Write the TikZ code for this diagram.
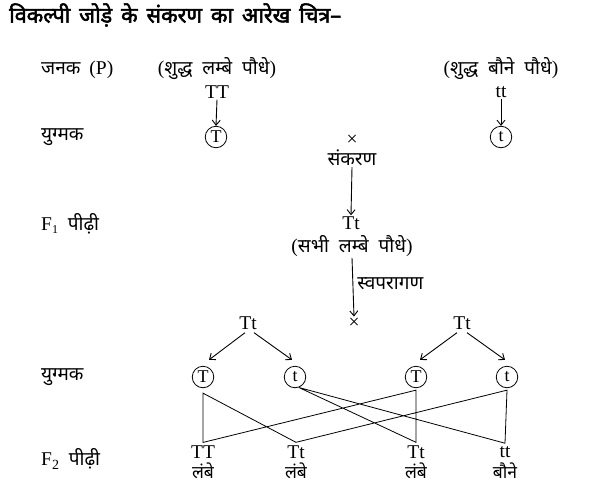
\documentclass[tikz,border=0pt]{standalone}
\usepackage{fontspec}
\setmainfont{Liberation Serif}
\newfontfamily\devfont[Script=Devanagari, WordSpace=2]{Noto Sans}
\newfontfamily\devbold[Script=Devanagari, FakeBold=2.5, WordSpace=1.6]{Noto Sans}
\usetikzlibrary{arrows.meta}
\newcommand{\hin}[1]{{\devfont\fontsize{19}{19}\selectfont #1}}
\newcommand{\hinsm}[1]{{\devfont\fontsize{17.5}{17.5}\selectfont #1}}
\begin{document}
\begin{tikzpicture}[x=1pt,y=-1pt,
  lat/.style={font=\fontsize{19.5}{19.5}\selectfont, inner sep=1pt},
  gam/.style={circle, draw, line width=0.8pt, minimum size=21.5pt, inner sep=0pt, font=\fontsize{18}{18}\selectfont},
  arr/.style={-{Straight Barb[length=5pt,width=8pt]}, line width=0.9pt},
  lnk/.style={line width=0.8pt, line join=miter}]
\useasboundingbox[fill=white] (0,0) rectangle (600,483);
% title
\node[anchor=west, inner sep=0pt, font=\devbold\fontsize{21.5}{21.5}\selectfont] (title) at (9,15) {विकल्पी जोड़े के संकरण का आरेख चित्र–};
% row labels
\node[lat, anchor=west] (lP) at (40,70) {\hin{जनक}\hspace{9pt}(P)};
\node[lat, anchor=west] (lG1) at (40,137) {\hin{युग्मक}};
\node[lat, anchor=west] (lF1) at (40,224) {F\raisebox{-3pt}{\fontsize{12}{12}\selectfont 1}\ \ \hin{पीढ़ी}};
\node[lat, anchor=west] (lG2) at (40,377) {\hin{युग्मक}};
\node[lat, anchor=west] (lF2) at (40,459) {F\raisebox{-4pt}{\fontsize{14}{14}\selectfont 2}\ \ \hin{पीढ़ी}};
% parents
\node[lat] (tallp) at (217,69) {(\hin{शुद्ध लम्बे पौधे})};
\node[lat] (dwarfp) at (501,69) {(\hin{शुद्ध बौने पौधे})};
\node[lat] (TT) at (217,92) {TT};
\node[lat] (tt) at (501,92) {tt};
\node[gam] (gT) at (216,137) {T};
\node[gam] (gt) at (501,137) {t};
\draw[arr] (TT.south) -- (gT.north);
\draw[arr] (tt.south) -- (gt.north);
% cross
\node[lat] (x1) at (352,140) {×};
\node[lat] (sank) at (352,158) {\hin{संकरण}};
\node[lat] (F1) at (351,223) {Tt};
\node[lat] (allT) at (352,246) {(\hin{सभी लम्बे पौधे})};
\draw[arr] (sank.south) -- (F1.north);
\node[lat] (x2) at (354,323) {×};
\draw[arr] (allT.south) -- node[right, inner sep=4pt, yshift=3pt] (svap) {\hin{स्वपरागण}} (x2.north);
% F1 parents for selfing
\node[lat] (TtL) at (248,323) {Tt};
\node[lat] (TtR) at (462,323) {Tt};
\node[gam] (g1) at (203,377) {T};
\node[gam] (g2) at (295,377) {t};
\node[gam] (g3) at (416,377) {T};
\node[gam] (g4) at (507,377) {t};
\draw[arr] ([xshift=-3pt,yshift=-2pt]TtL.south) -- ([xshift=6pt,yshift=6pt]g1.north);
\draw[arr] ([xshift=6pt,yshift=-2pt]TtL.south) -- ([xshift=-3pt,yshift=6pt]g2.north);
\draw[arr] ([xshift=-5pt,yshift=-2pt]TtR.south) -- ([xshift=4pt,yshift=6pt]g3.north);
\draw[arr] ([xshift=5pt,yshift=-2pt]TtR.south) -- ([xshift=-2pt,yshift=6pt]g4.north);
% F2
\node[lat] (f1) at (203,452) {TT};
\node[lat] (f2) at (296,452) {Tt};
\node[lat] (f3) at (416,452) {Tt};
\node[lat] (f4) at (505,452) {tt};
\node[lat, inner sep=0pt] (p1) at (203,471) {\hinsm{लंबे}};
\node[lat, inner sep=0pt] (p2) at (296,471) {\hinsm{लंबे}};
\node[lat, inner sep=0pt] (p3) at (416,471) {\hinsm{लंबे}};
\node[lat, inner sep=0pt] (p4) at (505,471) {\hinsm{बौने}};
\coordinate (a1) at ([yshift=-5pt]g1.south);
\coordinate (a3) at ([yshift=-2pt]g3.south);
\coordinate (a4) at ([yshift=-2pt]g4.south);
\coordinate (b1) at ([yshift=2pt]f1.north);
\coordinate (b2) at ([yshift=2pt]f2.north);
\coordinate (b3) at ([yshift=2pt]f3.north);
\coordinate (b4) at ([yshift=2pt]f4.north);
\draw[lnk] (a1) -- (b1) -- (a3) -- (b3) -- (g2.-70) -- (b4) -- (a4) -- (b2) -- cycle;
\end{tikzpicture}
\end{document}
